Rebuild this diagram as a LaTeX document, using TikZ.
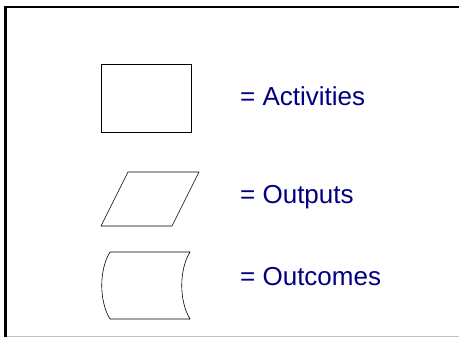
\documentclass[tikz,border=0pt]{standalone}
\usepackage{fontspec}
\setmainfont{Liberation Sans}
\usetikzlibrary{positioning}
\definecolor{navy}{HTML}{000080}
\definecolor{rim}{HTML}{C0C0C0}
\tikzset{
  sym/.style={draw,line width=0.6pt,inner sep=0pt,minimum width=90pt,minimum height=68pt},
  symline/.style={line width=0.6pt,line join=miter},
  lbl/.style={text=navy,font=\fontsize{26}{30}\selectfont,anchor=base west,inner sep=0pt},
}
\begin{document}
\begin{tikzpicture}[x=1pt,y=-1pt]
\useasboundingbox (0,0) rectangle (459,337);
% frame
\draw[rim,line width=0.8pt] (5,336) -- (459,336);
\draw[line width=2.5pt] (5.5,337) -- (5.5,7) -- (459,7);
% symbols
\node[sym] (act) at (146,98) {};
\draw[symline] (101,226) coordinate (outp) -- (128,172) -- (199,172) -- (172,226) -- cycle;
\draw[symline] (110,252) coordinate (oc) -- (190,252)
  .. controls (179,270) and (179,301) .. (190,319) -- (110,319)
  .. controls (99,301) and (99,270) .. (oc) -- cycle;
% labels
\node[lbl] (tact) at (240,106) {= Activities};
\node[lbl] (toutp) at (240,204) {= Outputs};
\node[lbl] (toc) at (240,286) {= Outcomes};
\end{tikzpicture}
\end{document}
